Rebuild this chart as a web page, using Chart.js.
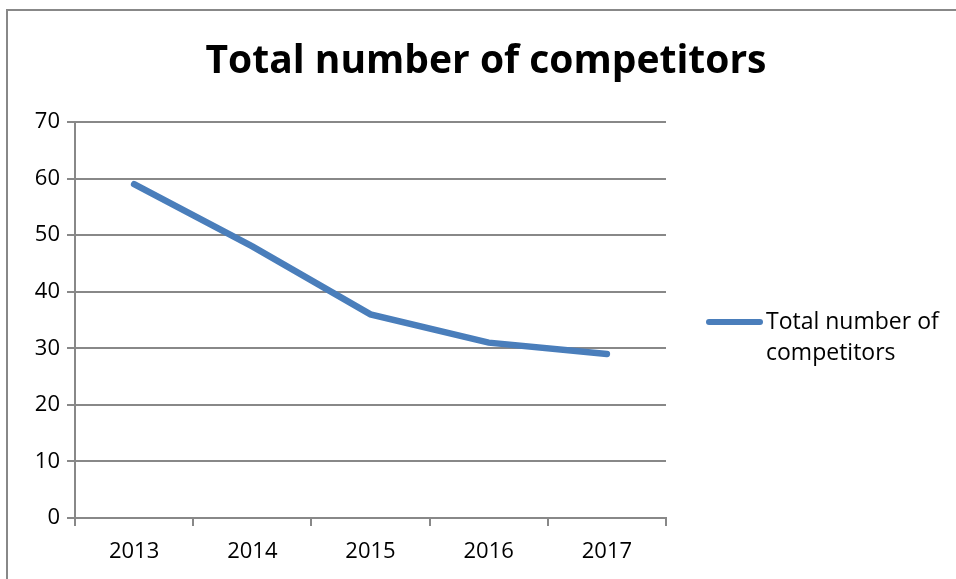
<!DOCTYPE html>
<html>
<head>
<meta charset="utf-8">
<script src="https://cdn.jsdelivr.net/npm/chart.js@4.4.0/dist/chart.umd.min.js"></script>
<style>
    html, body { margin: 0; padding: 0; background: #fff; }
    #wrap { position: relative; width: 956px; height: 579px; overflow: hidden; }
    #frame { position: absolute; left: 6px; top: 9px; width: 980px; height: 600px; border: 2px solid #888888; }
    #chart { position: absolute; left: 0; top: 0; }
    #legend { position: absolute; left: 706px; top: 305px; font-family: "Open Sans", sans-serif; font-size: 23px; line-height: 31px; color: #000; }
    #legend .swatch { position: absolute; left: 0; top: 14px; width: 57px; height: 6px; border-radius: 3px; background: #4a7ebb; }
    #legend .text { margin-left: 60px; width: 200px; }
</style>
</head>
<body>
<div id="wrap">
    <div id="frame"></div>
    <canvas id="chart" width="956" height="579"></canvas>
    <div id="legend"><span class="swatch"></span><div class="text" id="legend-text"></div></div>
</div>
<script>
// Dados do gráfico
const chartTitle = 'Total number of competitors';
const seriesName = 'Total number of competitors';
const years = ['2013', '2014', '2015', '2016', '2017'];
const competitors = [59, 48, 36, 31, 29];

const gridColor = '#888888';
const lineColor = '#4a7ebb';

document.getElementById('legend-text').innerText = seriesName;

// Título desenhado à mão (centrado como no original)
const titlePlugin = {
    id: 'centerTitle',
    afterDraw(chart) {
        const c = chart.ctx;
        c.save();
        c.fillStyle = '#000';
        c.font = 'bold 39px "Open Sans", sans-serif';
        c.textAlign = 'center';
        c.textBaseline = 'middle';
        c.fillText(chartTitle, 486, 62);
        c.restore();
    }
};

const ctx = document.getElementById('chart').getContext('2d');
const chart = new Chart(ctx, {
    type: 'line',
    data: {
        labels: years,
        datasets: [{
            label: seriesName,
            data: competitors,
            borderColor: lineColor,
            borderWidth: 6.5,
            borderCapStyle: 'round',
            pointRadius: 0,
            tension: 0,
            fill: false
        }]
    },
    options: {
        responsive: false,
        animation: false,
        layout: { padding: { left: 0, right: 290, top: 122, bottom: 0 } },
        plugins: {
            legend: { display: false },
            tooltip: { enabled: false },
            title: { display: false }
        },
        scales: {
            x: {
                offset: true,
                grid: {
                    offset: true,
                    drawOnChartArea: false,
                    drawTicks: true,
                    tickLength: 8,
                    color: gridColor,
                    lineWidth: 2
                },
                border: { display: true, color: gridColor, width: 2 },
                ticks: {
                    color: '#000',
                    padding: 13,
                    font: { family: '"Open Sans", sans-serif', size: 22 }
                },
                afterFit: (scale) => { scale.height = 61; }
            },
            y: {
                min: 0,
                max: 70,
                grid: {
                    color: gridColor,
                    lineWidth: 2,
                    tickLength: 8
                },
                border: { display: true, color: gridColor, width: 2 },
                ticks: {
                    stepSize: 10,
                    color: '#000',
                    padding: 7,
                    font: { family: '"Open Sans", sans-serif', size: 22 }
                },
                afterFit: (scale) => { scale.width = 75; }
            }
        }
    },
    plugins: [titlePlugin]
});
</script>
</body>
</html>
